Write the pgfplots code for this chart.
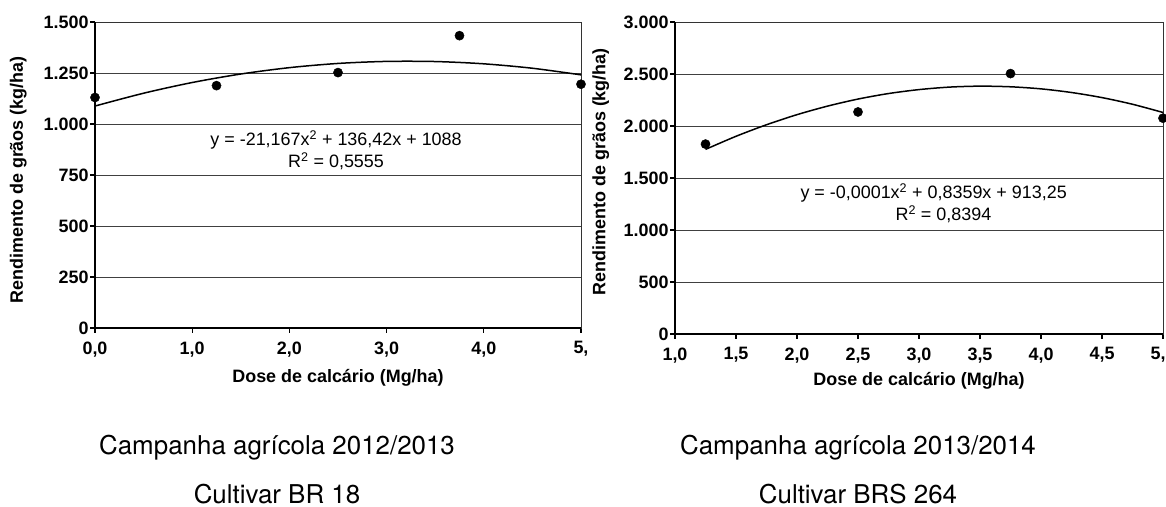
\documentclass[border=0pt]{standalone}
\usepackage{pgfplots}
\pgfplotsset{compat=1.18}
\usepackage{fontspec}
\setmainfont{Liberation Sans}
\newfontfamily\capfont{TeX Gyre Heros}
\begin{document}
\begin{tikzpicture}
\useasboundingbox (0,0) rectangle (1166bp,507bp);
\pgfplotsset{
  myax/.style={
    scale only axis,
    axis line style={black!80, line width=0.8bp},
    ymajorgrids, grid style={black!75, line width=0.8bp},
    tick pos=left, tick align=outside, major tick length=5bp,
    tick style={black, line width=1.2bp},
    ticklabel style={font=\bfseries\fontsize{18}{20}\selectfont},
    xticklabel style={yshift=-5bp},
    yticklabel style={xshift=2bp},
    label style={font=\bfseries\fontsize{18}{20}\selectfont},
    clip=false,
  },
  dots/.style={only marks, mark=*, mark size=4.6bp, mark options={fill=black, draw=black}},
  fit/.style={no marks, smooth, black, line width=1.5bp},
}
% ---------- left chart ----------
\begin{axis}[myax,
  at={(95bp,179bp)}, anchor=south west,
  width=486bp, height=306bp,
  xmin=0, xmax=5, ymin=0, ymax=1500,
  xtick={0,1,2,3,4,5}, xticklabels={{0,0},{1,0},{2,0},{3,0},{4,0},{5,}},
  ytick={0,250,500,750,1000,1250,1500},
  yticklabels={0,250,500,750,{1.000},{1.250},{1.500}},
  xlabel={Dose de calcário (Mg/ha)},
  xlabel style={at={(axis description cs:0.5,-0.163)}, anchor=center},
  ylabel={Rendimento de grãos (kg/ha)},
  ylabel style={at={(axis description cs:-0.158,0.484)}, anchor=center},
]
\addplot[fit] coordinates {(0,1088) (0.5,1150.9) (1,1203.3) (1.5,1245.0) (2,1276.2) (2.5,1296.8) (3,1306.8) (3.5,1306.2) (4,1295.0) (4.5,1273.3) (5,1240.9)};
\addplot[dots] coordinates {(0,1130) (1.25,1188) (2.5,1252) (3.75,1433) (5,1195)};
\node[font=\fontsize{18}{20}\selectfont, align=center] at (axis cs:2.48,920) {y = -21,167x\textsuperscript{2} + 136,42x + 1088};
\node[font=\fontsize{18}{20}\selectfont, align=center] at (axis cs:2.48,817) {R\textsuperscript{2} = 0,5555};
\draw[black, line width=2.4bp] (rel axis cs:0,1) -- (rel axis cs:0,0) -- (rel axis cs:1,0);
\end{axis}
% ---------- right chart ----------
\begin{axis}[myax,
  at={(675bp,173bp)}, anchor=south west,
  width=488bp, height=312bp,
  xmin=1, xmax=5, ymin=0, ymax=3000,
  xtick={1,1.5,2,2.5,3,3.5,4,4.5,5},
  xticklabels={{1,0},{1,5},{2,0},{2,5},{3,0},{3,5},{4,0},{4,5},{\hspace*{-10bp}5,}},
  ytick={0,500,1000,1500,2000,2500,3000},
  yticklabels={0,500,{1.000},{1.500},{2.000},{2.500},{3.000}},
  xlabel={Dose de calcário (Mg/ha)},
  xlabel style={at={(axis description cs:0.5,-0.151)}, anchor=center},
  ylabel={Rendimento de grãos (kg/ha)},
  ylabel style={at={(axis description cs:-0.152,0.52)}, anchor=center},
]
\addplot[fit] coordinates {(1.25,1775) (1.5,1901) (1.75,2012) (2,2109) (2.25,2191) (2.5,2259) (2.75,2312) (3,2350) (3.25,2374) (3.5,2383) (3.75,2377) (4,2357) (4.25,2322) (4.5,2273) (4.75,2209) (5,2130)};
\addplot[dots] coordinates {(1.25,1826) (2.5,2135) (3.75,2504) (5,2075)};
\node[font=\fontsize{18}{20}\selectfont] at (axis cs:3.12,1356) {y = -0,0001x\textsuperscript{2} + 0,8359x + 913,25};
\node[font=\fontsize{18}{20}\selectfont] at (axis cs:3.2,1154) {R\textsuperscript{2} = 0,8394};
\draw[black, line width=2.4bp] (rel axis cs:0,1) -- (rel axis cs:0,0) -- (rel axis cs:1,0);
\end{axis}
% ---------- captions ----------
\node[font=\capfont\fontsize{26}{30}\selectfont] at (277bp,59bp) {Campanha agrícola 2012/2013};
\node[font=\capfont\fontsize{26}{30}\selectfont] at (277bp,13bp) {Cultivar BR 18};
\node[font=\capfont\fontsize{26}{30}\selectfont] at (858bp,59bp) {Campanha agrícola 2013/2014};
\node[font=\capfont\fontsize{26}{30}\selectfont] at (858bp,13bp) {Cultivar BRS 264};
\end{tikzpicture}
\end{document}
